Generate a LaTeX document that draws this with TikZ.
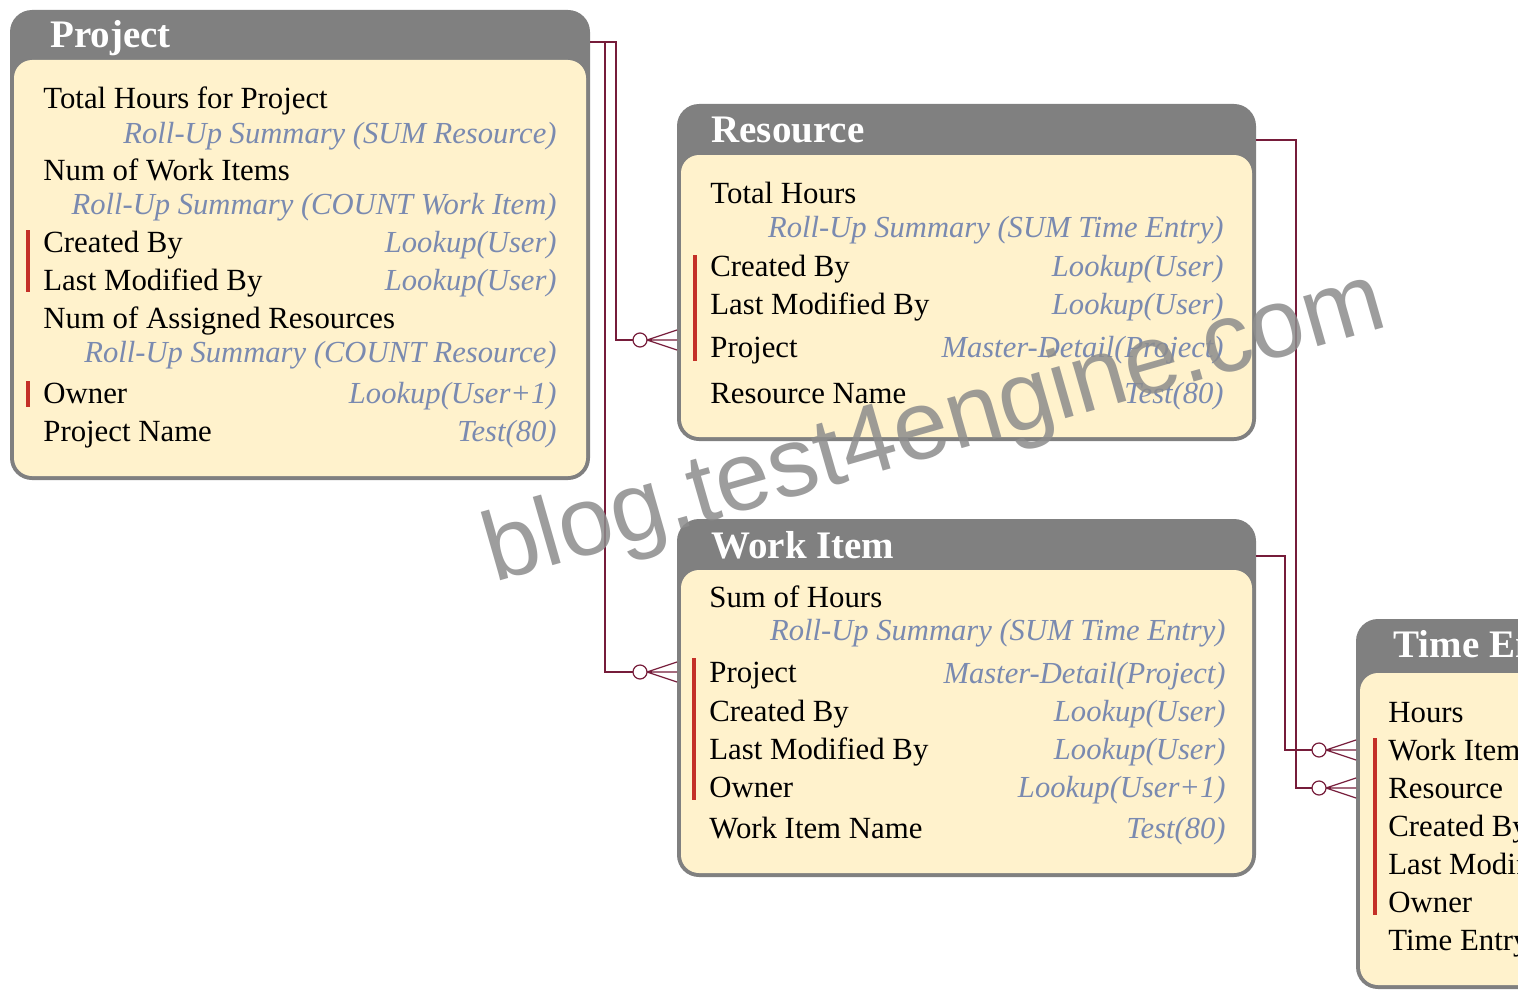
\documentclass[tikz,border=0pt]{standalone}
\usepackage{fontspec}
\setmainfont{Liberation Serif}
\newfontfamily\wmfont{Liberation Sans}
\usepackage{tikz}
\usetikzlibrary{calc}
\definecolor{hdrgray}{RGB}{128,128,128}
\definecolor{bodycream}{RGB}{255,242,204}
\definecolor{typblue}{RGB}{122,138,176}
\definecolor{barred}{RGB}{196,48,40}
\definecolor{relred}{RGB}{118,28,58}
\definecolor{wmgray}{RGB}{140,140,140}
\tikzset{
  hdr/.style={fill=hdrgray, rounded corners=11pt},
  body/.style={fill=bodycream, rounded corners=9pt},
  ttl/.style={anchor=base west, inner sep=0pt, text=white, font=\fontsize{19.5pt}{22pt}\selectfont\bfseries},
  fld/.style={anchor=base west, inner sep=0pt, font=\fontsize{15.4pt}{18pt}\selectfont},
  typ/.style={anchor=base east, inner sep=0pt, text=typblue, font=\fontsize{15.3pt}{18pt}\selectfont\itshape},
  bar/.style={barred, line width=2pt},
  rel/.style={relred, line width=0.6pt},
  wm/.style={text=wmgray, text opacity=0.85, font=\wmfont\fontsize{49pt}{55pt}\selectfont},
  crow/.pic={
    \draw[rel, fill=white] (-37,0) circle[radius=3.5pt];
    \draw[rel] (-30,0) -- (0,-10) (-30,0) -- (0,0) (-30,0) -- (0,10);
  }
}

\begin{document}
\begin{tikzpicture}[x=0.5pt, y=-0.5pt]
			\clip (0,0) rectangle (1518,990);
			\fill[white] (0,0) rectangle (1518,990);

			% Project
			\fill[hdr] (10,10) rectangle (590,480);
			\fill[body] (14,60) rectangle (586,476);
			\node[ttl] (prj) at (50,48) {Project};
			\foreach \y/\f in {109/Total Hours for Project, 180/Num of Work Items, 252/Created By, 290/Last Modified By, 328/Num of Assigned Resources, 403/Owner, 441/Project Name}{
				\node[fld] (prj-f\y) at (43,\y) {\f};
			}
			\foreach \y/\t in {143/{Roll-Up Summary (SUM Resource)}, 214/{Roll-Up Summary (COUNT Work Item)}, 252/{Lookup(User)}, 290/{Lookup(User)}, 362/{Roll-Up Summary (COUNT Resource)}, 403/{Lookup(User+1)}, 441/{Test(80)}}{
				\node[typ] (prj-t\y) at (557,\y) {\t};
			}
			\draw[bar] (28,230) -- (28,292);
			\draw[bar] (28,381) -- (28,407);

			% Resource
			\fill[hdr] (677,104) rectangle (1256,441);
			\fill[body] (681,155) rectangle (1252,437);
			\node[ttl] (res) at (711,142) {Resource};
			\foreach \y/\f in {203/Total Hours, 276/Created By, 314/Last Modified By, 357/Project, 403/Resource Name}{
				\node[fld] (res-f\y) at (710,\y) {\f};
			}
			\foreach \y/\t in {237/{Roll-Up Summary (SUM Time Entry)}, 276/{Lookup(User)}, 314/{Lookup(User)}, 357/{Master-Detail(Project)}, 403/{Test(80)}}{
				\node[typ] (res-t\y) at (1224,\y) {\t};
			}
			\draw[bar] (695,255) -- (695,361);

			% Work Item
			\fill[hdr] (677,519) rectangle (1256,877);
			\fill[body] (681,570) rectangle (1252,873);
			\node[ttl] (wi) at (711,558) {Work Item};
			\foreach \y/\f in {607/Sum of Hours, 682/Project, 721/Created By, 759/Last Modified By, 797/Owner, 838/Work Item Name}{
				\node[fld] (wi-f\y) at (709,\y) {\f};
			}
			\foreach \y/\t in {640/{Roll-Up Summary (SUM Time Entry)}, 683/{Master-Detail(Project)}, 721/{Lookup(User)}, 759/{Lookup(User)}, 797/{Lookup(User+1)}, 838/{Test(80)}}{
				\node[typ] (wi-t\y) at (1226,\y) {\t};
			}
			\draw[bar] (694,658) -- (694,800);

			% Time Entry
			\fill[hdr] (1356,619) rectangle (1720,989);
			\fill[body] (1360,673) rectangle (1716,985);
			\node[ttl] (te) at (1393,657) {Time Entry};
			\foreach \y/\f in {722/Hours, 760/Work Item, 798/Resource, 836/Created By, 874/Last Modified By, 912/Owner, 950/Time Entry Name}{
				\node[fld] (te-f\y) at (1388,\y) {\f};
			}
			\draw[bar] (1375,738) -- (1375,915);

			% relations
			\coordinate (prj-out) at (590,42);
			\coordinate (res-out) at (1256,140);
			\coordinate (wi-out) at (1256,556);
			\coordinate (res-in) at (677,340);
			\coordinate (wi-in) at (677,672);
			\coordinate (te-wi) at (1356,750);
			\coordinate (te-res) at (1356,788);
			\draw[rel] (prj-out) -- ++(26,0) |- ($(res-in)+(-44,0)$);
			\draw[rel] (prj-out) -- ++(15,0) |- ($(wi-in)+(-44,0)$);
			\draw[rel] (res-out) -- ++(40,0) |- ($(te-res)+(-44,0)$);
			\draw[rel] (wi-out) -- ++(29,0) |- ($(te-wi)+(-44,0)$);
			\foreach \c in {res-in, wi-in, te-wi, te-res}{
				\pic at (\c) {crow};
			}

			\node[wm, rotate=16] (mark) at (935,430) {blog.test4engine.com};
		\end{tikzpicture}
\end{document}
